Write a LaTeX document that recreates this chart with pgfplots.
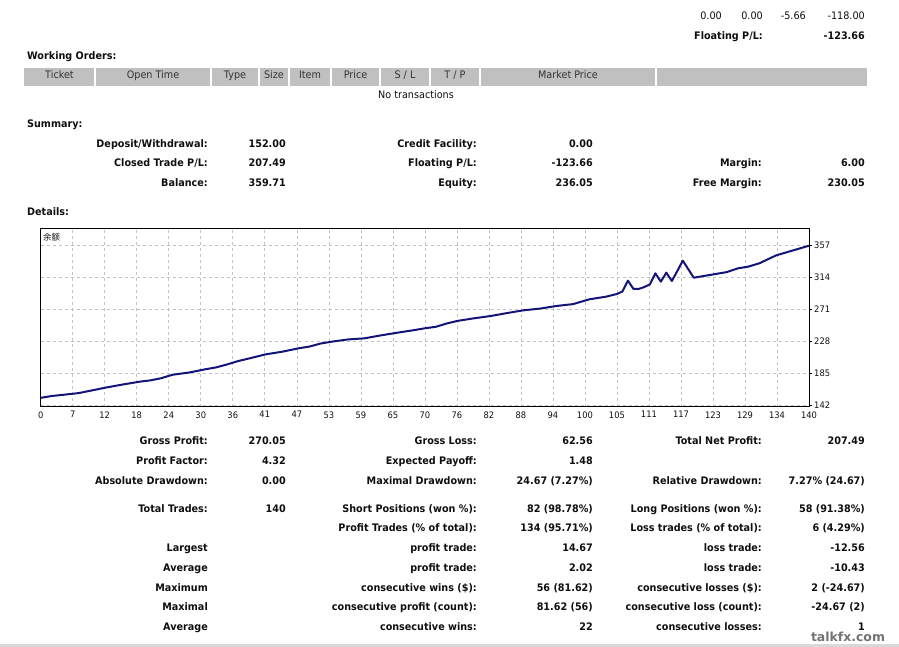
\documentclass[border=0pt]{standalone}
\usepackage{fontspec}
\setmainfont{DejaVu Sans}[FakeStretch=0.93]
\newfontfamily\cjk{Noto Sans CJK SC}
\newfontfamily\wmfont{DejaVu Sans}
\usepackage{pgfplots}
\usepackage{pgfplotstable}
\pgfplotsset{compat=1.18}
\definecolor{barg}{RGB}{192,192,192}
\definecolor{navyline}{RGB}{20,20,120}
\definecolor{gridg}{RGB}{195,195,195}
\definecolor{txt}{RGB}{15,15,15}
\pgfplotstableread{
x y
0 152
2 154.5
4 156
7 158.5
9 161.5
12 166
15 170
18 173.7
20 175.5
22 178.5
24 183
27 186
30 190.4
32 193
34 197
36 201.5
38 205
41 210.5
44 214
47 218.6
49 221
51 225
53 227.5
56 230.5
59 232
62 236
65 239.6
68 243
70 245.5
72 247.5
74 252
76 255.5
79 259
82 262
85 266
88 269.7
91 272
94 275.5
97 278
100 284.5
103 288
105 291.6
106 295
107 309.5
108 298.5
109 298.5
110 301
111 304.5
112 319.4
113 308.2
114 320.3
115 309
116 322.5
117 336.4
118 325
119 313.5
121 316
123 318.5
125 321
127 326
129 328.5
131 333
134 343.5
137 350
140 356.5
}\balance
\newcommand{\fs}{\fontsize{10.4}{12}\selectfont}
\begin{document}
\begin{tikzpicture}
\begin{scope}[x=1bp,y=-1bp]
\path[use as bounding box] (0,0) rectangle (899,647);
\end{scope}
\begin{scope}[x=1bp,y=-1bp,yshift=-1.5bp,every node/.style={inner sep=0pt,text=txt,font=\fs}]
% top right
\node[anchor=mid east] at (722,15) {0.00};
\node[anchor=mid east] at (763,15) {0.00};
\node[anchor=mid east] at (806,15) {-5.66};
\node[anchor=mid east] at (865,15) {-118.00};
\node[anchor=mid east] at (763,35) {\bfseries Floating P/L:};
\node[anchor=mid east] at (865,35) {\bfseries -123.66};
% working orders
\node[anchor=mid west] at (27,55) {\bfseries Working Orders:};
\fill[barg] (24,66.5) rectangle (867,84.5);
\foreach \s in {95,211,259,289,331,380,430,480,656} \fill[white] (\s-0.8,66.5) rectangle (\s+0.8,84.5);
\foreach \c/\t in {59.5/Ticket,153/Open Time,235/Type,274/Size,310/Item,355.5/Price,405/{S / L},455/{T / P},568/Market Price}
  \node[anchor=mid,text=black!80] at (\c,74) {\t};
\node[anchor=mid] at (416,94) {No transactions};
% summary
\node[anchor=mid west] at (27,123) {\bfseries Summary:};
\foreach \y/\a/\b/\c/\d/\e/\f in {
 143/Deposit\slash Withdrawal:/152.00/Credit Facility:/0.00//,
 162/Closed Trade P\slash L:/207.49/Floating P\slash L:/-123.66/Margin:/6.00,
 182/Balance:/359.71/Equity:/236.05/Free Margin:/230.05}{
 \node[anchor=mid east] at (208,\y) {\bfseries \a};
 \node[anchor=mid east] at (286,\y) {\bfseries \b};
 \node[anchor=mid east] at (477,\y) {\bfseries \c};
 \node[anchor=mid east] at (593,\y) {\bfseries \d};
 \node[anchor=mid east] at (762,\y) {\bfseries \e};
 \node[anchor=mid east] at (865,\y) {\bfseries \f};
}
\node[anchor=mid west] at (27,211) {\bfseries Details:};
% details
\foreach \y/\a/\b/\c/\d/\e/\f in {
 440/Gross Profit:/270.05/Gross Loss:/62.56/Total Net Profit:/207.49,
 460/Profit Factor:/4.32/Expected Payoff:/1.48//,
 480/Absolute Drawdown:/0.00/Maximal Drawdown:/24.67 (7.27\%)/Relative Drawdown:/7.27\% (24.67),
 508/Total Trades:/140/Short Positions (won \%):/82 (98.78\%)/Long Positions (won \%):/58 (91.38\%),
 527///Profit Trades (\% of total):/134 (95.71\%)/Loss trades (\% of total):/6 (4.29\%),
 547/Largest//profit trade:/14.67/loss trade:/-12.56,
 567/Average//profit trade:/2.02/loss trade:/-10.43,
 587/Maximum//consecutive wins (\$):/56 (81.62)/consecutive losses (\$):/2 (-24.67),
 606/Maximal//consecutive profit (count):/81.62 (56)/consecutive loss (count):/-24.67 (2),
 626/Average//consecutive wins:/22/consecutive losses:/1}{
 \node[anchor=mid east] at (208,\y) {\bfseries \a};
 \node[anchor=mid east] at (286,\y) {\bfseries \b};
 \node[anchor=mid east] at (477,\y) {\bfseries \c};
 \node[anchor=mid east] at (593,\y) {\bfseries \d};
 \node[anchor=mid east] at (762,\y) {\bfseries \e};
 \node[anchor=mid east] at (865,\y) {\bfseries \f};
}
\end{scope}
\begin{scope}[x=1bp,y=-1bp]
\fill[gray!30] (0,643.5) rectangle (899,647);
\node[anchor=mid,inner sep=0pt,text=black!55,font=\wmfont\bfseries\fontsize{12.5}{13}\selectfont] at (848,639) {talkfx.com};
\end{scope}
\begin{axis}[
  at={(40.7bp,-406.7bp)}, anchor=south west,
  width=768.3bp, height=178.7bp, scale only axis,
  xmin=0, xmax=140, ymin=140.1, ymax=380.3,
  axis line style={black,line width=0.8bp},
  grid=major, grid style={gridg,dash pattern=on 3bp off 3bp,line width=0.6bp},
  xtick={0,5.8333,11.6667,17.5,23.3333,29.1667,35,40.8333,46.6667,52.5,58.3333,64.1667,70,75.8333,81.6667,87.5,93.3333,99.1667,105,110.8333,116.6667,122.5,128.3333,134.1667,140},
  xticklabels={0,7,12,18,24,30,36,41,47,53,59,65,70,76,82,88,94,100,105,111,117,123,129,134,140},
  ytick={142,185,228,271,314,357},
  xtick pos=bottom, ytick pos=right, yticklabel pos=right,
  tick align=outside,
  xtick style={draw=none}, ytick style={black,line width=0.6bp},
  major tick length=2.5bp,
  /pgf/number format/assume math mode=true,
  ticklabel style={font=\fontsize{9}{10}\selectfont,text=txt},
  xticklabel style={inner sep=2bp},
  yticklabel style={inner sep=2.5bp},
]
\addplot[navyline,line width=2bp,line join=round] table[x=x,y=y] {\balance};
\end{axis}
\begin{scope}[x=1bp,y=-1bp]
\node[anchor=west,inner sep=0pt,font=\cjk\fontsize{8.5}{9}\selectfont,text=txt] at (43,237.5) {余额};
\end{scope}
\end{tikzpicture}
\end{document}
